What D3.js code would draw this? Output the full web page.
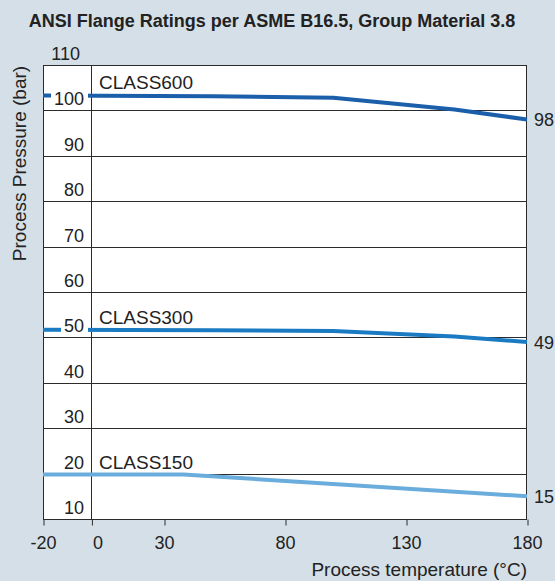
<!DOCTYPE html>
<html>
<head>
<meta charset="utf-8">
<script src="https://cdn.jsdelivr.net/npm/d3@7"></script>
<style>
  body { margin: 0; background: #d4dfe7; }
  svg { display: block; font-family: "Liberation Sans", Arial, sans-serif; }
</style>
</head>
<body>
<script>
// temperatures in °C, pressures in bar
let classNames = ["CLASS600", "CLASS300", "CLASS150"];
let class600Temps = [-20, 50, 100, 150, 180];
let class600Values = [103.3, 103.1, 102.8, 100.2, 98];
let class300Temps = [-20, 50, 100, 150, 180];
let class300Values = [51.7, 51.6, 51.4, 50.2, 49];
let class150Temps = [-20, 38, 180];
let class150Values = [19.8, 19.8, 15];
let endLabels = ["98", "49", "15"];
let xTicks = [-20, 0, 30, 80, 130, 180];
let yTicks = [10, 20, 30, 40, 50, 60, 70, 80, 90, 100, 110];
let lineColors = ["#1b5eaa", "#1b7bc2", "#6aacdc"];

let series = [
  { name: classNames[0], t: class600Temps, v: class600Values, end: endLabels[0], color: lineColors[0] },
  { name: classNames[1], t: class300Temps, v: class300Values, end: endLabels[1], color: lineColors[1] },
  { name: classNames[2], t: class150Temps, v: class150Values, end: endLabels[2], color: lineColors[2] }
];

let width = 555, height = 581;
let plotLeft = 43, plotRight = 527, plotTop = 65, plotBottom = 519;

let svg = d3.select("body")
  .append("svg")
  .attr("width", width)
  .attr("height", height);

svg.append("rect")
  .attr("width", width)
  .attr("height", height)
  .style("fill", "#d4dfe7");

let x = d3.scaleLinear().domain([-20, 180]).range([plotLeft, plotRight]);
let y = d3.scaleLinear().domain([10, 110]).range([plotBottom, plotTop]);

// plot area
svg.append("rect")
  .attr("x", plotLeft)
  .attr("y", plotTop)
  .attr("width", plotRight - plotLeft)
  .attr("height", plotBottom - plotTop)
  .style("fill", "white");

// horizontal grid
svg.append("g")
  .selectAll("line")
  .data(yTicks)
  .enter()
  .append("line")
  .attr("x1", plotLeft)
  .attr("x2", plotRight)
  .attr("y1", d => Math.round(y(d)) + 0.5)
  .attr("y2", d => Math.round(y(d)) + 0.5)
  .style("stroke", "#2b2b2b")
  .style("stroke-width", 1);

// zero line
svg.append("line")
  .attr("x1", Math.round(x(0)) + 0.5)
  .attr("x2", Math.round(x(0)) + 0.5)
  .attr("y1", plotTop)
  .attr("y2", plotBottom)
  .style("stroke", "#2b2b2b");

// border
svg.append("rect")
  .attr("x", plotLeft + 0.5)
  .attr("y", plotTop + 0.5)
  .attr("width", plotRight - plotLeft - 1)
  .attr("height", plotBottom - plotTop)
  .style("fill", "none")
  .style("stroke", "#2b2b2b");

// x axis
let xAxis = svg.append("g")
  .attr("transform", `translate(0,${plotBottom + 0.5})`)
  .call(d3.axisBottom(x).tickValues(xTicks).tickSize(6).tickPadding(11).tickFormat(d => String(d)));
xAxis.select(".domain").remove();
xAxis.selectAll("line").style("stroke", "#2b2b2b").attr("transform", "translate(0.5,0)");
xAxis.selectAll("text")
  .style("font-size", "18px")
  .style("font-family", "Liberation Sans, Arial, sans-serif")
  .style("fill", "#222")
  .attr("dx", d => d === 0 ? 6 : 0);

// lines
let line = d3.line()
  .x(d => x(d[0]))
  .y(d => y(d[1]));

svg.append("g")
  .selectAll("path")
  .data(series)
  .enter()
  .append("path")
  .attr("d", d => line(d.t.map((t, i) => [t, d.v[i]])))
  .style("fill", "none")
  .style("stroke", d => d.color)
  .style("stroke-width", 4);

// y tick labels with white boxes
let yLabels = svg.append("g")
  .selectAll("g")
  .data(yTicks)
  .enter()
  .append("g")
  .attr("transform", d => `translate(${d === 110 ? 80 : 84},${y(d) - 5})`);

yLabels.filter(d => d < 110)
  .append("rect")
  .attr("x", d => d >= 100 ? -33 : -23)
  .attr("y", -16)
  .attr("width", d => d >= 100 ? 37 : 27)
  .attr("height", 19)
  .style("fill", "white");

yLabels.append("text")
  .attr("text-anchor", "end")
  .style("font-size", "18px")
  .style("fill", "#222")
  .text(d => d);

// series labels
svg.append("g")
  .selectAll("text")
  .data(series)
  .enter()
  .append("text")
  .attr("x", 99)
  .attr("y", d => y(d.v[0]) - 6)
  .style("font-size", "19px")
  .style("fill", "#222")
  .text(d => d.name);

// end value labels
svg.append("g")
  .selectAll("text")
  .data(series)
  .enter()
  .append("text")
  .attr("x", plotRight + 7)
  .attr("y", d => y(d.v[d.v.length - 1]) + 7)
  .style("font-size", "18px")
  .style("fill", "#222")
  .text(d => d.end);

// titles
svg.append("text")
  .attr("x", 272)
  .attr("y", 27)
  .attr("text-anchor", "middle")
  .style("font-size", "18px")
  .style("font-weight", "bold")
  .style("fill", "#222")
  .text("ANSI Flange Ratings per ASME B16.5, Group Material 3.8");

svg.append("text")
  .attr("transform", `translate(26,${(65 + 262) / 2}) rotate(-90)`)
  .attr("text-anchor", "middle")
  .style("font-size", "19px")
  .style("fill", "#222")
  .text("Process Pressure (bar)");

svg.append("text")
  .attr("x", plotRight)
  .attr("y", 576)
  .attr("text-anchor", "end")
  .style("font-size", "19px")
  .style("fill", "#222")
  .text("Process temperature (°C)");
</script>
</body>
</html>
